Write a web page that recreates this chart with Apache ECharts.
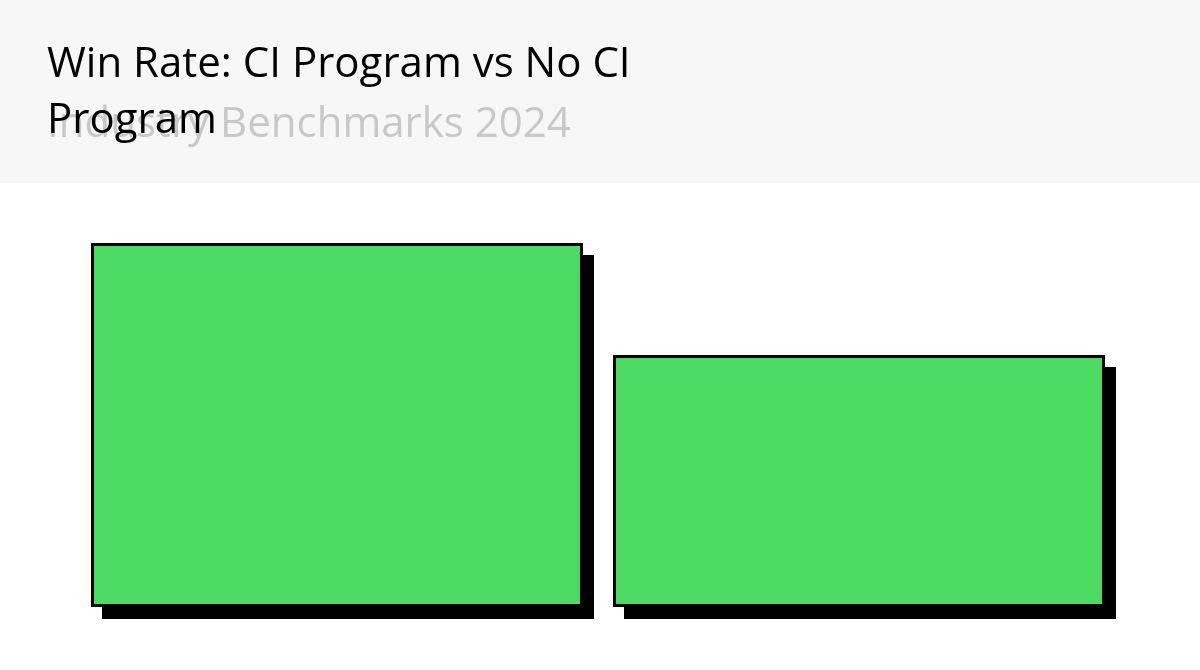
<!DOCTYPE html>
<html>
<head>
<meta charset="utf-8">
<script src="https://cdn.jsdelivr.net/npm/echarts@6/dist/echarts.min.js"></script>
<style>html,body{margin:0;padding:0;background:#fff}#c{width:1200px;height:670px}</style>
</head>
<body>
<div id="c"></div>
<script>
var categories = ['CI Program', 'No CI Program'];
var winRates = [52, 36];
var titleText = 'Win Rate: CI Program vs No CI Program';
var subtitleText = 'Industry Benchmarks 2024';

var chart = echarts.init(document.getElementById('c'));
chart.setOption({
  backgroundColor: '#ffffff',
  animation: false,
  graphic: [{
    type: 'rect', z: -10, silent: true,
    shape: { x: 0, y: 0, width: 1200, height: 183 },
    style: { fill: '#f7f7f7' }
  }],
  title: [{
    text: subtitleText,
    left: 47, top: 104, padding: 0,
    textStyle: { fontFamily: 'Open Sans', fontSize: 42, fontWeight: 'normal', color: '#c8c8c8', lineHeight: 42 }
  }, {
    text: titleText,
    left: 47, top: 37, padding: 0,
    textStyle: { fontFamily: 'Open Sans', fontSize: 42, fontWeight: 'normal', color: '#000', lineHeight: 56, width: 610, overflow: 'break' }
  }],
  grid: { left: 76, right: 80, top: 187, bottom: 63 },
  xAxis: { type: 'category', data: categories, show: false },
  yAxis: { type: 'value', min: 0, max: 60, show: false },
  series: [{
    type: 'bar',
    name: 'shadow',
    data: winRates,
    barWidth: 492,
    z: 1,
    silent: true,
    itemStyle: {
      color: '#000',
      shadowColor: '#000',
      shadowBlur: 0,
      shadowOffsetX: 11,
      shadowOffsetY: 12
    }
  }, {
    type: 'bar',
    name: 'Win Rate',
    data: winRates,
    barWidth: 492,
    barGap: '-100%',
    z: 2,
    itemStyle: {
      color: '#4cd964',
      borderColor: '#000',
      borderWidth: 3
    }
  }]
});
</script>
</body>
</html>
